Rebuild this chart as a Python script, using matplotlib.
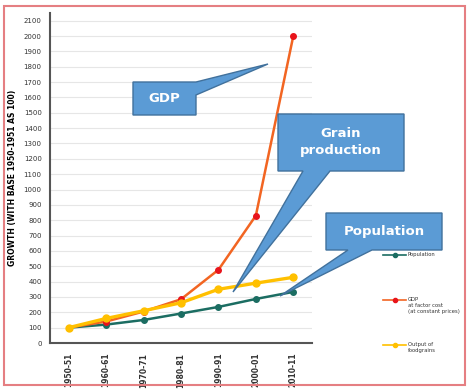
import matplotlib.pyplot as plt
from matplotlib.patches import Polygon, Rectangle
from matplotlib.lines import Line2D

years = ['1950-51', '1960-61', '1970-71', '1980-81', '1990-91', '2000-01', '2010-11']
population = [100, 120, 150, 192, 235, 287, 333]
gdp = [100, 140, 205, 285, 477, 830, 2000]
foodgrains = [100, 160, 210, 262, 350, 390, 428]

W, H = 470, 389
fig = plt.figure(figsize=(W / 100, H / 100), dpi=100)
ax = fig.add_axes([50 / W, 1 - 343 / H, 262 / W, 330 / H])

x = range(len(years))
ax.plot(x, population, color='#1b6d62', lw=1.8, marker='o', ms=4, zorder=3)
ax.plot(x, gdp, color='#f26522', lw=1.8, marker='o', ms=4, mfc='#e8141b', mec='#e8141b', zorder=4)
ax.plot(x, foodgrains, color='#ffc000', lw=2.4, marker='o', ms=5, zorder=5)

ax.set_xlim(-0.5, len(years) - 0.5)
ax.set_ylim(0, 2150)
ax.set_yticks(range(0, 2101, 100))
ax.tick_params(axis='y', labelsize=5, length=0, pad=6, colors='#333333')
ax.set_xticks(list(x))
ax.set_xticklabels(years, rotation=90, fontsize=5.5, fontweight='bold', color='#333333')
ax.tick_params(axis='x', length=0, pad=7)
ax.grid(axis='y', color='#e6e6e6', lw=0.8)
ax.set_axisbelow(True)
for s in ['top', 'right']:
    ax.spines[s].set_visible(False)
ax.spines['left'].set_color('#555555')
ax.spines['bottom'].set_color('#555555')
ax.spines['left'].set_linewidth(1.5)
ax.spines['bottom'].set_linewidth(1.5)
ax.set_ylabel('GROWTH (WITH BASE 1950-1951 AS 100)', fontsize=5.5, fontweight='bold')
ax.yaxis.set_label_coords(-0.125, 0.5)


def px(pts):
    return [(a / W, 1 - b / H) for a, b in pts]


# outer border
fig.add_artist(Rectangle((4 / W, 1 - 385 / H), 461 / W, 379 / H, transform=fig.transFigure,
                         fill=False, ec='#e57f82', lw=1.5))

# callouts
blue, edge = '#5b9bd5', '#41719c'
callouts = [
    ([(133, 82), (196, 82), (268, 64), (196, 95), (196, 115), (133, 115)], 'GDP', (164, 99)),
    ([(278, 114), (404, 114), (404, 171), (330, 171), (233, 292), (303, 171), (278, 171)],
     'Grain\nproduction', (341, 142)),
    ([(326, 213), (442, 213), (442, 250), (372, 250), (280, 296), (348, 250), (326, 250)],
     'Population', (384, 232)),
]
for pts, label, (tx, ty) in callouts:
    fig.add_artist(Polygon(px(pts), closed=True, transform=fig.transFigure,
                           fc=blue, ec=edge, lw=1, zorder=10))
    fig.text(tx / W, 1 - ty / H, label, color='white', fontsize=9.5, fontweight='bold',
             ha='center', va='center', zorder=11, linespacing=1.4)

# legend
entries = [
    ('#1b6d62', '#1b6d62', 'Population', 255),
    ('#f26522', '#e8141b', 'GDP\nat factor cost\n(at constant prices)', 300),
    ('#ffc000', '#ffc000', 'Output of\nfoodgrains', 345),
]
for lc, mc, text, y in entries:
    fig.add_artist(Line2D([383 / W, 406 / W], [1 - y / H] * 2, color=lc, lw=1.2,
                          transform=fig.transFigure))
    fig.add_artist(Line2D([395 / W], [1 - y / H], color=mc, marker='o', ms=3,
                          transform=fig.transFigure))
    fig.text(408 / W, 1 - (y - 3) / H, text, fontsize=3.8, va='top', ha='left', color='#333333')

fig.savefig('out.png', dpi=100)
